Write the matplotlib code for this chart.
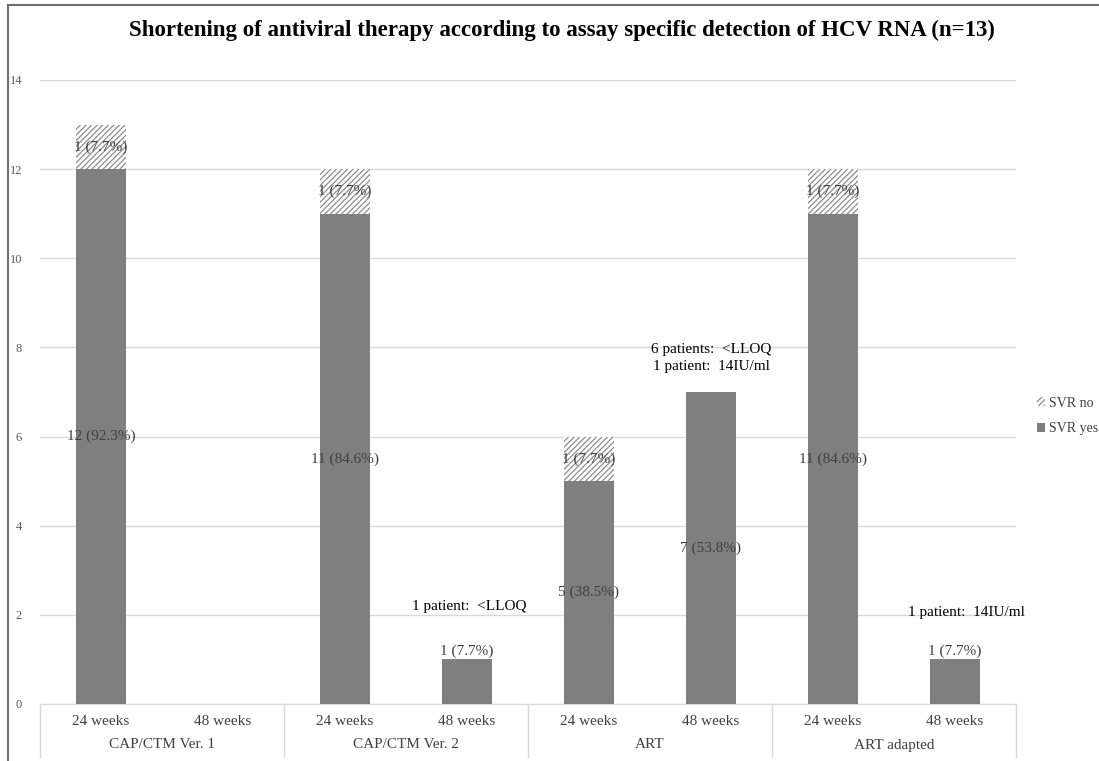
import matplotlib
matplotlib.use("Agg")
import matplotlib.pyplot as plt
from matplotlib.lines import Line2D
from matplotlib.patches import Patch
import matplotlib.transforms as mtransforms

plt.rcParams["font.family"] = ["Liberation Serif", "DejaVu Serif"]
plt.rcParams["hatch.linewidth"] = 0.9

# Data
assays = ["CAP/CTM Ver. 1", "CAP/CTM Ver. 2", "ART", "ART adapted"]
durations = ["24 weeks", "48 weeks"]
svr_yes = [12, 0, 11, 1, 5, 7, 11, 1]
svr_no = [1, 0, 1, 0, 1, 0, 1, 0]
n_total = 13
yticks = [0, 2, 4, 6, 8, 10, 12, 14]

BAR = "#7f7f7f"
TXT = "#404040"
GRID = "#d9d9d9"
HATCH = "//////"
FS = 11

fig = plt.figure(figsize=(10.99, 7.61), dpi=100)
ax = fig.add_axes([40 / 1099, 1 - 704 / 761, 976 / 1099, 624 / 761])

x = list(range(len(svr_yes)))
width = 0.41
ax.bar(x, svr_yes, width, color=BAR, linewidth=0, zorder=3, label="SVR yes")
ax.bar(x, svr_no, width, bottom=svr_yes, color="white", edgecolor="#8c8c8c",
       hatch=HATCH, linewidth=0, zorder=3, label="SVR no")

def pct(v):
    return f"{v} ({100 * v / n_total:.1f}%)"

for xi, v in zip(x, svr_yes):
    if v == 0:
        continue
    if v > 1:
        ax.text(xi, v / 2, pct(v), ha="center", va="center", fontsize=FS, color=TXT, zorder=4)
    else:
        ax.annotate(pct(v), (xi, v), xytext=(0, 1), textcoords="offset points",
                    ha="center", va="bottom", fontsize=FS, color=TXT, zorder=4)

for xi, b, v in zip(x, svr_yes, svr_no):
    if v == 0:
        continue
    ax.text(xi, b + v / 2, pct(v), ha="center", va="center", fontsize=FS, color=TXT, zorder=4)

# Notes on measured viral load
ax.text(3.02, 2.18, "1 patient:  <LLOQ", ha="center", va="center", fontsize=FS, color="black")
ax.text(5.0, 7.76, "6 patients:  <LLOQ\n1 patient:  14IU/ml", ha="center", va="center",
        fontsize=FS, color="black", linespacing=1.4)
ax.text(7.09, 2.06, "1 patient:  14IU/ml", ha="center", va="center", fontsize=FS, color="black")

ax.set_xlim(-0.5, len(x) - 0.5)
ax.set_ylim(0, 14)
ax.set_yticks(yticks)
ax.tick_params(axis="y", length=0, pad=13, labelsize=9, labelcolor="#595959")
ax.set_xticks(x)
ax.set_xticklabels(durations * len(assays))
ax.tick_params(axis="x", length=0, pad=8, labelsize=FS, labelcolor=TXT)
ax.grid(axis="y", color=GRID, linewidth=1, zorder=0)
ax.set_axisbelow(True)
for s in ["top", "right", "left"]:
    ax.spines[s].set_visible(False)
ax.spines["bottom"].set_color(GRID)

# Group labels and separators below the axis
trans = mtransforms.blended_transform_factory(ax.transData, ax.transAxes)
axh_px = 624
for gi, name in enumerate(assays):
    ax.text(gi * 2 + 0.5, -41 / axh_px, name, transform=trans, ha="center", va="center",
            fontsize=FS, color=TXT)
for b in [-0.5, 1.5, 3.5, 5.5, 7.5]:
    ax.add_line(Line2D([b, b], [0, -53 / axh_px], transform=trans, color=GRID,
                       linewidth=1, clip_on=False))

fig.text(0.5116, 1 - 30 / 761,
         "Shortening of antiviral therapy according to assay specific detection of HCV RNA (n=13)",
         ha="center", va="center", fontsize=16.5, fontweight="bold", color="black")

handles = [Patch(facecolor="white", edgecolor="#8c8c8c", hatch=HATCH, linewidth=0),
           Patch(facecolor=BAR, linewidth=0)]
fig.legend(handles, ["SVR no", "SVR yes"], loc="center left",
           bbox_to_anchor=(1024 / 1099, 1 - 416 / 761), frameon=False, fontsize=10,
           handlelength=0.6, handleheight=0.6, handletextpad=0.3, labelspacing=0.9,
           labelcolor=TXT)

# Outer frame
fig.add_artist(Line2D([8 / 1099, 8 / 1099], [0, 1 - 5 / 761], transform=fig.transFigure,
                      color="#6e6e6e", linewidth=1.5))
fig.add_artist(Line2D([8 / 1099, 1], [1 - 5 / 761, 1 - 5 / 761], transform=fig.transFigure,
                      color="#6e6e6e", linewidth=1.5))

fig.savefig("out.png", dpi=100)
